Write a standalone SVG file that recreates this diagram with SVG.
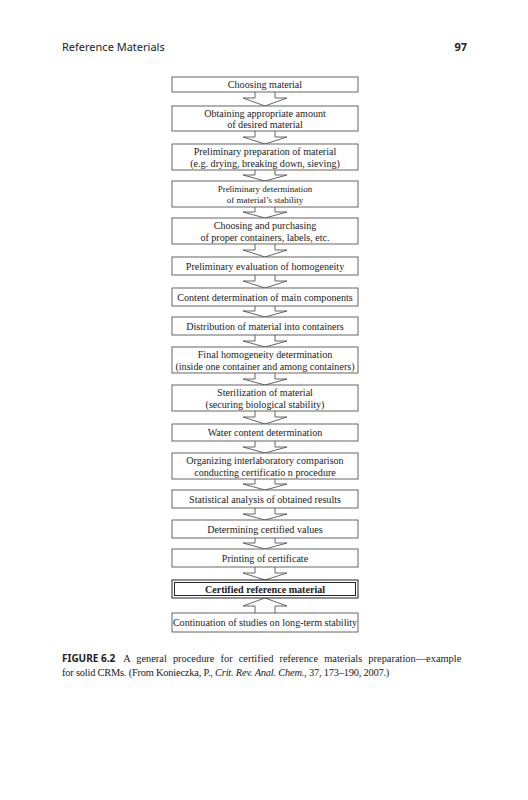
<svg xmlns="http://www.w3.org/2000/svg" width="528" height="800" viewBox="0 0 528 800">
<style>
.box{fill:#fff;stroke:#555;stroke-width:0.9}
.t{font-family:"Liberation Serif","DejaVu Serif",serif;font-size:10.1px;fill:#222;text-anchor:middle}
.ts{font-size:9px}
.b{font-weight:bold}
.arr{fill:#fff;stroke:#555;stroke-width:0.9;stroke-linejoin:miter}
.hdr{font-family:"Noto Sans","Open Sans",sans-serif;font-size:11px;fill:#222}
.cap{font-family:"Liberation Serif","DejaVu Serif",serif;font-size:10.4px;fill:#222}
.capb{font-family:"Noto Sans","Liberation Sans",sans-serif;font-size:10px;font-weight:bold;fill:#222}
</style>
<rect width="528" height="800" fill="#fff"/>
<text class="hdr" x="62" y="51">Reference Materials</text>
<text class="hdr" x="467" y="51" text-anchor="end" style="font-weight:bold">97</text>

<g id="connectors">
<path class="arr" d="M255,92 V98 H243 L265,106 L287,98 H275 V92"/>
<path class="arr" d="M255,131 V137 H243 L265,144 L287,137 H275 V131"/>
<path class="arr" d="M255,170 V175 H243 L265,181 L287,175 H275 V170"/>
<path class="arr" d="M255,207 V212 H243 L265,218 L287,212 H275 V207"/>
<path class="arr" d="M255,244 V250 H243 L265,257 L287,250 H275 V244"/>
<path class="arr" d="M255,275 V281 H243 L265,288 L287,281 H275 V275"/>
<path class="arr" d="M255,306 V311 H243 L265,317 L287,311 H275 V306"/>
<path class="arr" d="M255,335 V341 H243 L265,347 L287,341 H275 V335"/>
<path class="arr" d="M255,373 V379 H243 L265,385 L287,379 H275 V373"/>
<path class="arr" d="M255,411 V417 H243 L265,424 L287,417 H275 V411"/>
<path class="arr" d="M255,441 V447 H243 L265,453 L287,447 H275 V441"/>
<path class="arr" d="M255,479 V484 H243 L265,490 L287,484 H275 V479"/>
<path class="arr" d="M255,508 V514 H243 L265,520 L287,514 H275 V508"/>
<path class="arr" d="M255,538 V543 H243 L265,549 L287,543 H275 V538"/>
<path class="arr" d="M255,567 V573 H243 L265,580 L287,573 H275 V567"/>
<path class="arr" d="M255,613 V606 H243 L265,598 L287,606 H275 V613"/>
</g>

<g id="n1"><rect class="box" x="172" y="77" width="186" height="15"/><text class="t" x="265" y="88">Choosing material</text></g>
<g id="n2"><rect class="box" x="172" y="106" width="186" height="25"/><text class="t" x="265" y="116.5">Obtaining appropriate amount</text><text class="t" x="265" y="127.5">of desired material</text></g>
<g id="n3"><rect class="box" x="172" y="144" width="186" height="26"/><text class="t" x="265" y="155">Preliminary preparation of material</text><text class="t" x="265" y="166.5">(e.g. drying, breaking down, sieving)</text></g>
<g id="n4"><rect class="box" x="172" y="181" width="186" height="26"/><text class="t ts" x="265" y="191.5">Preliminary determination</text><text class="t ts" x="265" y="202.5">of material’s stability</text></g>
<g id="n5"><rect class="box" x="172" y="218" width="186" height="26"/><text class="t" x="265" y="229">Choosing and purchasing</text><text class="t" x="265" y="240.5">of proper containers, labels, etc.</text></g>
<g id="n6"><rect class="box" x="172" y="257" width="186" height="18"/><text class="t" x="265" y="269.5">Preliminary evaluation of homogeneity</text></g>
<g id="n7"><rect class="box" x="172" y="288" width="186" height="18"/><text class="t" x="265" y="300.5">Content determination of main components</text></g>
<g id="n8"><rect class="box" x="172" y="317" width="186" height="18"/><text class="t" x="265" y="329.5">Distribution of material into containers</text></g>
<g id="n9"><rect class="box" x="172" y="347" width="186" height="26"/><text class="t" x="265" y="358">Final homogeneity determination</text><text class="t" x="265" y="369.5">(inside one container and among containers)</text></g>
<g id="n10"><rect class="box" x="172" y="385" width="186" height="26"/><text class="t" x="265" y="396">Sterilization of material</text><text class="t" x="265" y="407.5">(securing biological stability)</text></g>
<g id="n11"><rect class="box" x="172" y="424" width="186" height="17"/><text class="t" x="265" y="436">Water content determination</text></g>
<g id="n12"><rect class="box" x="172" y="453" width="186" height="26"/><text class="t" x="265" y="464">Organizing interlaboratory comparison</text><text class="t" x="265" y="475.5">conducting certificatio n procedure</text></g>
<g id="n13"><rect class="box" x="172" y="490" width="186" height="18"/><text class="t" x="265" y="502.5">Statistical analysis of obtained results</text></g>
<g id="n14"><rect class="box" x="172" y="520" width="186" height="18"/><text class="t" x="265" y="532.5">Determining certified values</text></g>
<g id="n15"><rect class="box" x="172" y="549" width="186" height="18"/><text class="t" x="265" y="561.5">Printing of certificate</text></g>
<g id="n16"><rect class="box" x="172" y="580" width="186" height="18" style="stroke:#222;stroke-width:1"/><rect class="box" x="174.5" y="582.5" width="181" height="13" style="stroke:#222;stroke-width:1"/><text class="t b" x="265" y="592.5">Certified reference material</text></g>
<g id="n17"><rect class="box" x="172" y="613" width="186" height="19"/><text class="t" x="265" y="626">Continuation of studies on long-term stability</text></g>

<text class="cap" x="62" y="662"><tspan class="capb">FIGURE 6.2</tspan><tspan dx="8" word-spacing="3.5">A general procedure for certified reference materials preparation—example</tspan></text>
<text class="cap" x="62" y="676" letter-spacing="-0.2">for solid CRMs. (From Konieczka, P., <tspan font-style="italic">Crit. Rev. Anal. Chem.</tspan>, 37, 173–190, 2007.)</text>
</svg>
